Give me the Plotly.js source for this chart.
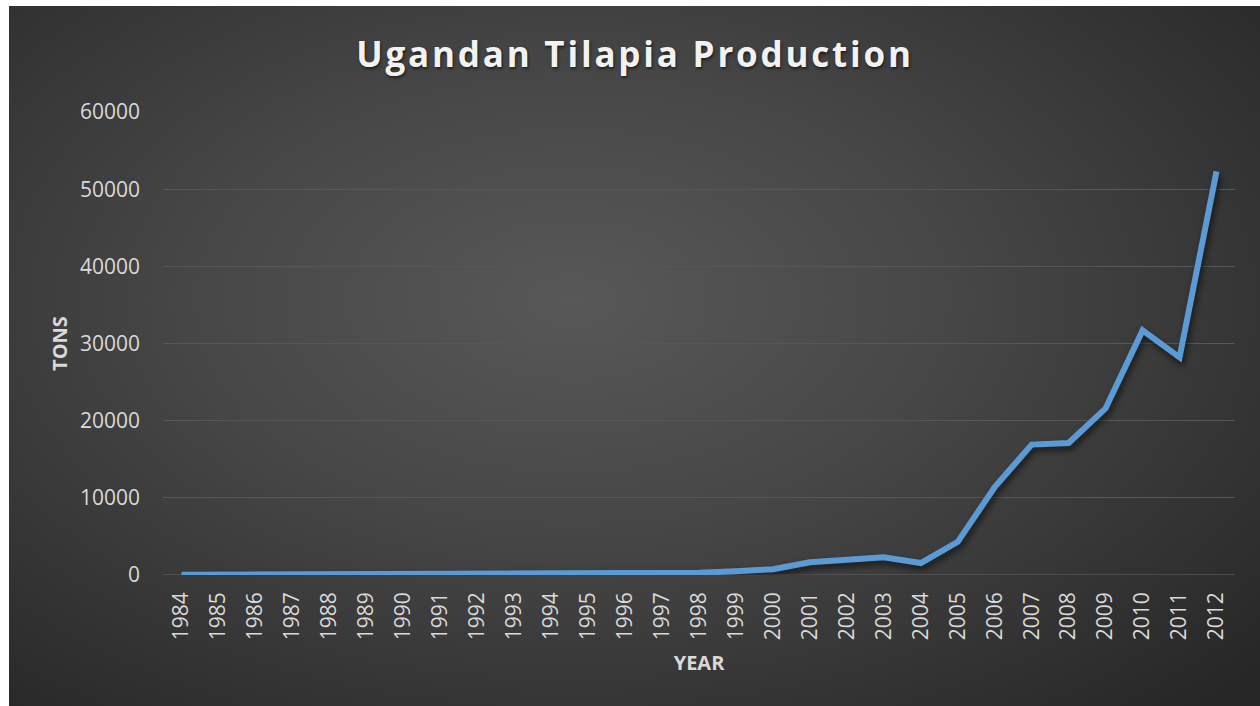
<!DOCTYPE html>
<html>
<head>
<meta charset="utf-8">
<script src="https://cdn.plot.ly/plotly-3.0.1.min.js"></script>
<style>
  html, body { margin: 0; padding: 0; background: #ffffff; }
  #wrap { position: relative; width: 1260px; height: 706px; overflow: hidden; }
  #bg { position: absolute; left: 9px; top: 6px; width: 1251px; height: 700px;
        background: radial-gradient(ellipse 75% 80% at 45% 42%, #585858 0%, #474747 40%, #313131 80%, #262626 100%); }
  #chart { position: absolute; left: 0; top: 0; width: 1260px; height: 706px; }
  .gtitle { letter-spacing: 2.8px; text-shadow: 1px 2px 3px rgba(0,0,0,0.55); }
  .scatterlayer .js-line { filter: drop-shadow(2px 4px 3px rgba(0,0,0,0.6)); }
</style>
</head>
<body>
<div id="wrap">
  <div id="bg"></div>
  <div id="chart"></div>
</div>
<script>
const years = ["1984","1985","1986","1987","1988","1989","1990","1991","1992","1993",
  "1994","1995","1996","1997","1998","1999","2000","2001","2002","2003",
  "2004","2005","2006","2007","2008","2009","2010","2011","2012"];
const tons = [20, 30, 40, 50, 50, 60, 60, 70, 70, 80,
  120, 150, 130, 280, 300, 480, 750, 1650, 2000, 2300,
  1550, 4300, 11400, 16900, 17100, 21600, 31700, 28200, 52300];
const yTicks = [0, 10000, 20000, 30000, 40000, 50000, 60000];

const tickFont = { family: "Open Sans, sans-serif", size: 21, color: "#d9d9d9" };
const axisTitleFont = { family: "Open Sans, sans-serif", size: 20, color: "#d9d9d9", weight: "bold" };

const data = [{
  type: "scatter",
  mode: "lines",
  x: years,
  y: tons,
  line: { color: "#5b9bd5", width: 6, shape: "linear" },
  hoverinfo: "x+y",
  showlegend: false
}];

const layout = {
  width: 1260,
  height: 706,
  paper_bgcolor: "rgba(0,0,0,0)",
  plot_bgcolor: "rgba(0,0,0,0)",
  margin: { l: 163, r: 25, t: 112, b: 131 },
  title: {
    text: "<b>Ugandan Tilapia Production</b>",
    font: { family: "Open Sans, sans-serif", size: 35, color: "#f2f2f2" },
    x: 0.504, xanchor: "center",
    y: 1 - 55 / 706, yanchor: "middle", yref: "container"
  },
  xaxis: {
    type: "category",
    categoryorder: "array",
    categoryarray: years,
    range: [-0.5, years.length - 0.5],
    tickangle: -90,
    tickfont: tickFont,
    ticks: "",
    ticklabelstandoff: 12,
    showgrid: false,
    zeroline: false,
    showline: false,
    automargin: false,
    title: { text: "YEAR", font: axisTitleFont, standoff: 16 }
  },
  yaxis: {
    range: [0, 60000],
    tickvals: yTicks,
    ticktext: yTicks.map(String),
    tickfont: tickFont,
    ticks: "",
    ticklabelstandoff: 22,
    showgrid: true,
    gridcolor: "#575757",
    gridwidth: 1.3,
    zeroline: false,
    showline: false,
    automargin: false,
    title: { text: "TONS", font: axisTitleFont, standoff: 6 }
  },
  shapes: [{
    type: "line", xref: "paper", yref: "y", x0: 0, x1: 1, y0: 0, y1: 0,
    line: { color: "#575757", width: 1.3 }, layer: "below"
  }]
};

Plotly.newPlot("chart", data, layout, { displayModeBar: false, staticPlot: true });
</script>
</body>
</html>
